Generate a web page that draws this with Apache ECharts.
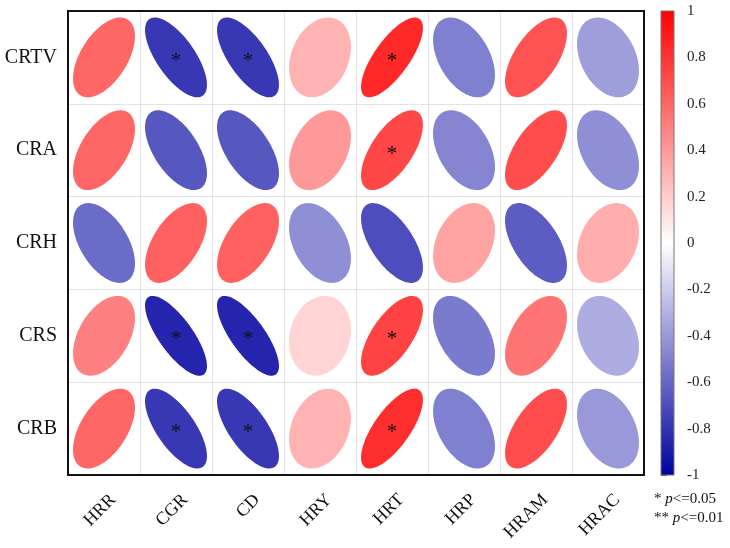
<!DOCTYPE html>
<html>
<head>
<meta charset="utf-8">
<script src="https://cdn.jsdelivr.net/npm/echarts@6/dist/echarts.min.js"></script>
<style>html,body{margin:0;padding:0;background:#fff;}#c{width:730px;height:548px;}</style>
</head>
<body>
<div id="c"></div>
<script>
const cols = ['HRR', 'CGR', 'CD', 'HRY', 'HRT', 'HRP', 'HRAM', 'HRAC'];
const rows = ['CRTV', 'CRA', 'CRH', 'CRS', 'CRB'];
const rCRTV = [0.60, -0.78, -0.78, 0.30, 0.84, -0.50, 0.68, -0.38];
const rCRA  = [0.60, -0.66, -0.66, 0.40, 0.72, -0.48, 0.70, -0.44];
const rCRH  = [-0.58, 0.62, 0.62, -0.44, -0.70, 0.36, -0.64, 0.32];
const rCRS  = [0.50, -0.86, -0.86, 0.17, 0.74, -0.52, 0.54, -0.32];
const rCRB  = [0.60, -0.78, -0.78, 0.30, 0.82, -0.50, 0.70, -0.40];
const sCRTV = ['', '*', '*', '', '*', '', '', ''];
const sCRA  = ['', '', '', '', '*', '', '', ''];
const sCRH  = ['', '', '', '', '', '', '', ''];
const sCRS  = ['', '*', '*', '', '*', '', '', ''];
const sCRB  = ['', '*', '*', '', '*', '', '', ''];

const corr = [rCRTV, rCRA, rCRH, rCRS, rCRB];
const sig = [sCRTV, sCRA, sCRH, sCRS, sCRB];
const data = [];
corr.forEach((row, yi) => row.forEach((v, xi) => data.push([xi, yi, v, sig[yi][xi]])));

const FONT = 'Liberation Serif';
const SHAPE = 0.88;
const chart = echarts.init(document.getElementById('c'));
chart.setOption({
  animation: false,
  backgroundColor: '#fff',
  grid: [
    {left: 68, top: 11, width: 576, height: 464, show: true, borderColor: '#111', borderWidth: 2, backgroundColor: 'transparent', z: 10},
    {left: 661, top: 11, width: 13, height: 464}
  ],
  xAxis: [
    {type: 'category', data: cols, gridIndex: 0,
     axisLine: {show: false}, axisTick: {show: false},
     splitLine: {show: true, lineStyle: {color: '#e4e4e4', width: 1}},
     axisLabel: {rotate: 45, margin: 13, fontFamily: FONT, fontSize: 18, color: '#111',
                 align: 'right', verticalAlign: 'top', lineHeight: 26, interval: 0}},
    {type: 'value', gridIndex: 1, min: 0, max: 1, show: false}
  ],
  yAxis: [
    {type: 'category', data: rows, inverse: true, gridIndex: 0,
     axisLine: {show: false}, axisTick: {show: false},
     splitLine: {show: true, lineStyle: {color: '#e4e4e4', width: 1}},
     axisLabel: {margin: 11, fontFamily: FONT, fontSize: 20, color: '#111'}},
    {type: 'value', gridIndex: 1, min: -1, max: 1, interval: 0.2, position: 'right',
     axisLine: {show: false},
     axisTick: {show: true, length: 6, lineStyle: {color: '#555'}},
     splitLine: {show: false},
     axisLabel: {margin: 13, fontFamily: FONT, fontSize: 15, color: '#222',
                 formatter: v => String(Math.round(v * 10) / 10)}}
  ],
  visualMap: {show: false, type: 'continuous', min: -1, max: 1, dimension: 2, seriesIndex: 0,
              inRange: {color: ['#0000A0', '#FFFFFF', '#FF0000']}},
  series: [
    {type: 'custom', xAxisIndex: 0, yAxisIndex: 0, data: data,
     renderItem: function (params, api) {
       const c = api.coord([api.value(0), api.value(1)]);
       const s = api.size([1, 1]);
       const r = api.value(2) * SHAPE;
       const rx = s[0] * 0.43, ry = s[1] * 0.43;
       const d = Math.acos(Math.max(-1, Math.min(1, r)));
       const pts = [];
       const N = 120;
       for (let k = 0; k < N; k++) {
         const t = 2 * Math.PI * k / N;
         pts.push([c[0] + rx * Math.cos(t + d / 2), c[1] - ry * Math.cos(t - d / 2)]);
       }
       const children = [{type: 'polygon', shape: {points: pts}, style: {fill: api.visual('color'), stroke: null}}];
       const mark = data[params.dataIndex][3];
       if (mark) {
         children.push({type: 'text', style: {text: mark, x: c[0], y: c[1] + 4, align: 'center', verticalAlign: 'middle',
                        fontFamily: FONT, fontSize: 21, fill: '#111'}});
       }
       return {type: 'group', children: children};
     }},
    {type: 'custom', xAxisIndex: 1, yAxisIndex: 1, data: [[0]],
     renderItem: function (params, api) {
       const p0 = api.coord([0, 1]);
       const p1 = api.coord([1, -1]);
       return {type: 'rect', shape: {x: p0[0], y: p0[1], width: p1[0] - p0[0], height: p1[1] - p0[1]},
               style: {fill: new echarts.graphic.LinearGradient(0, 0, 0, 1, [
                 {offset: 0, color: '#FF0000'}, {offset: 0.5, color: '#FFFFFF'}, {offset: 1, color: '#0000A0'}]),
                 stroke: '#777', lineWidth: 1}};
     }}
  ],
  graphic: [
    {type: 'text', left: 654, top: 492, style: {text: '{a|* }{i|p}{a|<=0.05}', rich: {
      a: {fontFamily: FONT, fontSize: 15, fill: '#111'}, i: {fontFamily: FONT, fontSize: 15, fontStyle: 'italic', fill: '#111'}}}},
    {type: 'text', left: 654, top: 511, style: {text: '{a|** }{i|p}{a|<=0.01}', rich: {
      a: {fontFamily: FONT, fontSize: 15, fill: '#111'}, i: {fontFamily: FONT, fontSize: 15, fontStyle: 'italic', fill: '#111'}}}}
  ]
});
</script>
</body>
</html>
